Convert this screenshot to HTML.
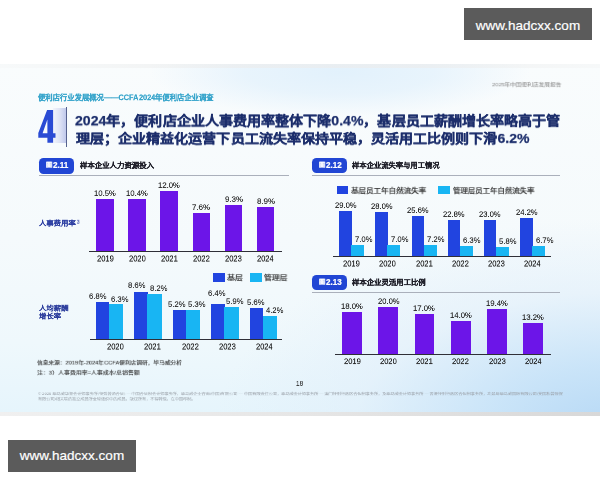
<!DOCTYPE html>
<html lang="zh-CN">
<head>
<meta charset="utf-8">
<style>
*{margin:0;padding:0;box-sizing:border-box}
html,body{width:600px;height:480px;overflow:hidden;background:#fff}
body{position:relative;font-family:"Liberation Sans",sans-serif}
.r{position:absolute}
.t{position:absolute;will-change:transform;white-space:nowrap;line-height:1;transform-origin:0 0}
.wm{position:absolute;width:128px;height:32px;background:#5b5b5b;color:#fff;font-size:13.5px;line-height:33px;text-align:center;overflow:hidden;-webkit-text-stroke:0.2px #fff}
#slide{position:absolute;left:0;top:64px;width:600px;height:348px;overflow:hidden;
 background:radial-gradient(ellipse 190px 45px at 340px 8px,rgba(226,241,252,1) 0%,rgba(228,242,252,0.8) 50%,rgba(240,247,252,0) 100%),radial-gradient(ellipse 400px 210px at 615px 365px,rgba(182,216,245,1) 0%,rgba(198,226,248,0.9) 30%,rgba(222,237,250,0.5) 65%,rgba(240,247,252,0) 100%),linear-gradient(180deg,#f9fcfd 0%,#f5fafc 50%,#eff8fc 80%,#e6f5fc 100%)}
#band{position:absolute;left:0;top:412px;width:600px;height:4px;background:linear-gradient(90deg,#f0f0f0,#e6e6e6 50%,#d8d8d8)}
</style>
</head>
<body>
<div class="wm" style="left:464px;top:8px;line-height:35px">www.hadcxx.com</div>
<div class="wm" style="left:8px;top:440px;line-height:31px">www.hadcxx.com</div>
<div id="slide"></div>
<div id="band"></div>
<div class="r" style="left:0;top:64px;width:600px;height:3.5px;background:linear-gradient(90deg,rgba(238,238,238,0.2) 0%,rgba(236,236,236,0.65) 40%,rgba(236,236,236,0.65) 70%,rgba(240,240,240,0.3) 100%)"></div>
<div class="r" style="left:52.5px;top:108.3px;width:13.3px;height:35px;background:linear-gradient(90deg,#f1f4fb 0%,#dfe4f5 50%,#c0c9ec 100%)"></div>
<div class="r" style="left:65.8px;top:107.4px;width:1px;height:39.3px;background:#56628e"></div>
<svg class="r" style="left:0;top:0" width="600" height="480"><path fill="#2a4bd4" fill-rule="evenodd" d="M47.1,110 L53.1,110 L53.1,133.3 L55.5,133.3 L55.5,137.7 L53.1,137.7 L53.1,142.8 L47.4,142.8 L47.4,137.7 L38.3,137.7 L38.3,133.1 Z M47.4,119.6 L47.4,133.3 L42.6,133.3 Z"/></svg>
<div class="r" style="left:39.10px;top:158.10px;width:34.90px;height:15.60px;background:#2146d4;border-radius:4.5px"></div>
<div class="r" style="left:39.00px;top:175.20px;width:250.00px;height:1.30px;background:#aab0bb"></div>
<div class="r" style="left:96.10px;top:198.91px;width:17.60px;height:52.29px;background:#6c15e8"></div>
<div class="r" style="left:128.25px;top:199.41px;width:17.60px;height:51.79px;background:#6c15e8"></div>
<div class="r" style="left:160.40px;top:191.44px;width:17.60px;height:59.76px;background:#6c15e8"></div>
<div class="r" style="left:192.55px;top:213.35px;width:17.60px;height:37.85px;background:#6c15e8"></div>
<div class="r" style="left:224.70px;top:204.89px;width:17.60px;height:46.31px;background:#6c15e8"></div>
<div class="r" style="left:256.85px;top:206.88px;width:17.60px;height:44.32px;background:#6c15e8"></div>
<div class="r" style="left:89.00px;top:250.55px;width:193.00px;height:1.40px;background:#2f2f37"></div>
<div class="r" style="left:212.80px;top:273.40px;width:11.90px;height:8.50px;background:#2144e0"></div>
<div class="r" style="left:250.40px;top:273.40px;width:11.60px;height:8.50px;background:#18b5f3"></div>
<div class="r" style="left:95.90px;top:301.56px;width:13.60px;height:37.94px;background:#2144e0"></div>
<div class="r" style="left:109.00px;top:304.35px;width:14.10px;height:35.15px;background:#18b5f3"></div>
<div class="r" style="left:134.38px;top:291.51px;width:13.60px;height:47.99px;background:#2144e0"></div>
<div class="r" style="left:147.47px;top:293.74px;width:14.10px;height:45.76px;background:#18b5f3"></div>
<div class="r" style="left:172.85px;top:310.48px;width:13.60px;height:29.02px;background:#2144e0"></div>
<div class="r" style="left:185.95px;top:309.93px;width:14.10px;height:29.57px;background:#18b5f3"></div>
<div class="r" style="left:211.33px;top:303.79px;width:13.60px;height:35.71px;background:#2144e0"></div>
<div class="r" style="left:224.43px;top:306.58px;width:14.10px;height:32.92px;background:#18b5f3"></div>
<div class="r" style="left:249.80px;top:308.25px;width:13.60px;height:31.25px;background:#2144e0"></div>
<div class="r" style="left:262.90px;top:316.06px;width:14.10px;height:23.44px;background:#18b5f3"></div>
<div class="r" style="left:89.70px;top:338.85px;width:192.30px;height:1.40px;background:#2f2f37"></div>
<div class="r" style="left:312.30px;top:157.70px;width:34.50px;height:15.50px;background:#2146d4;border-radius:4.5px"></div>
<div class="r" style="left:312.00px;top:175.20px;width:248.30px;height:1.30px;background:#aab0bb"></div>
<div class="r" style="left:337.00px;top:186.40px;width:11.30px;height:7.90px;background:#2144e0"></div>
<div class="r" style="left:438.30px;top:186.40px;width:11.50px;height:7.90px;background:#18b5f3"></div>
<div class="r" style="left:339.10px;top:210.67px;width:12.50px;height:45.53px;background:#2144e0"></div>
<div class="r" style="left:351.10px;top:245.21px;width:13.00px;height:10.99px;background:#18b5f3"></div>
<div class="r" style="left:375.30px;top:212.24px;width:12.50px;height:43.96px;background:#2144e0"></div>
<div class="r" style="left:387.30px;top:245.21px;width:13.00px;height:10.99px;background:#18b5f3"></div>
<div class="r" style="left:411.50px;top:216.01px;width:12.50px;height:40.19px;background:#2144e0"></div>
<div class="r" style="left:423.50px;top:244.90px;width:13.00px;height:11.30px;background:#18b5f3"></div>
<div class="r" style="left:447.70px;top:220.40px;width:12.50px;height:35.80px;background:#2144e0"></div>
<div class="r" style="left:459.70px;top:246.31px;width:13.00px;height:9.89px;background:#18b5f3"></div>
<div class="r" style="left:483.90px;top:220.09px;width:12.50px;height:36.11px;background:#2144e0"></div>
<div class="r" style="left:495.90px;top:247.09px;width:13.00px;height:9.11px;background:#18b5f3"></div>
<div class="r" style="left:520.10px;top:218.21px;width:12.50px;height:37.99px;background:#2144e0"></div>
<div class="r" style="left:532.10px;top:245.68px;width:13.00px;height:10.52px;background:#18b5f3"></div>
<div class="r" style="left:333.40px;top:255.55px;width:217.60px;height:1.40px;background:#2f2f37"></div>
<div class="r" style="left:312.30px;top:274.60px;width:34.50px;height:15.40px;background:#2146d4;border-radius:4.5px"></div>
<div class="r" style="left:312.00px;top:291.80px;width:248.30px;height:1.30px;background:#aab0bb"></div>
<div class="r" style="left:342.20px;top:311.84px;width:19.80px;height:42.66px;background:#6c15e8"></div>
<div class="r" style="left:378.40px;top:307.10px;width:19.80px;height:47.40px;background:#6c15e8"></div>
<div class="r" style="left:414.60px;top:314.21px;width:19.80px;height:40.29px;background:#6c15e8"></div>
<div class="r" style="left:450.80px;top:321.32px;width:19.80px;height:33.18px;background:#6c15e8"></div>
<div class="r" style="left:487.00px;top:308.52px;width:19.80px;height:45.98px;background:#6c15e8"></div>
<div class="r" style="left:523.20px;top:323.22px;width:19.80px;height:31.28px;background:#6c15e8"></div>
<div class="r" style="left:334.50px;top:353.85px;width:216.50px;height:1.40px;background:#2f2f37"></div>
<div class="t" style="left:492.24px;top:82.40px;font-size:6px;font-weight:normal;color:#8a8a8a;transform:scale(0.9497,0.8528);">2025年中国便利店发展报告</div>
<div class="t" style="left:38.28px;top:94.27px;font-size:16px;font-weight:bold;color:#3aa6cc;transform:scale(0.4571,0.4750);-webkit-text-stroke:0.5px #3aa6cc">便利店行业发展概况——CCFA&#8202;2024年便利店企业调查</div>
<div class="t" style="left:75.23px;top:113.87px;font-size:14px;font-weight:bold;color:#1b2d6b;transform:scale(1.0047,0.9403);-webkit-text-stroke:0.25px #1b2d6b">2024年，便利店企业人事费用率整体下降0.4%，基层员工薪酬增长率略高于管</div>
<div class="t" style="left:75.53px;top:131.75px;font-size:14px;font-weight:bold;color:#1b2d6b;transform:scale(1.0034,0.8990);-webkit-text-stroke:0.25px #1b2d6b">理层；企业精益化运营下员工流失率保持平稳，灵活用工比例则下滑6.2%</div>
<div class="t" style="left:45.84px;top:162.47px;font-size:7px;font-weight:bold;color:#ffffff;transform:scale(0.8945,0.7469);-webkit-text-stroke:0.15px #fff">图</div>
<div class="t" style="left:52.60px;top:161.13px;font-size:8px;font-weight:bold;color:#ffffff;transform:scale(1.0172,1.1616);-webkit-text-stroke:0.2px #fff">2.11</div>
<div class="t" style="left:79.50px;top:161.97px;font-size:16px;font-weight:bold;color:#1e1e28;transform:scale(0.4627,0.4508);-webkit-text-stroke:0.6px #1e1e28">样本企业人力资源投入</div>
<div class="t" style="left:39.27px;top:219.51px;font-size:16px;font-weight:bold;color:#3042a4;transform:scale(0.4588,0.4272);-webkit-text-stroke:0.35px #3042a4">人事费用率</div>
<div class="t" style="left:76.71px;top:219.14px;font-size:5px;font-weight:bold;color:#3042a4;transform:scale(0.8698,1.2292);">3</div>
<div class="t" style="left:93.85px;top:189.77px;font-size:15.6px;font-weight:normal;color:#2a2a2a;transform:scale(0.4935,0.4479);-webkit-text-stroke:0.3px #2a2a2a">10.5%</div>
<div class="t" style="left:96.53px;top:254.83px;font-size:16px;font-weight:normal;color:#222222;transform:scale(0.4722,0.4959);-webkit-text-stroke:0.3px #222222">2019</div>
<div class="t" style="left:126.00px;top:190.27px;font-size:15.6px;font-weight:normal;color:#2a2a2a;transform:scale(0.4935,0.4479);-webkit-text-stroke:0.3px #2a2a2a">10.4%</div>
<div class="t" style="left:128.68px;top:254.81px;font-size:16px;font-weight:normal;color:#222222;transform:scale(0.4708,0.4973);-webkit-text-stroke:0.3px #222222">2020</div>
<div class="t" style="left:158.15px;top:182.30px;font-size:15.6px;font-weight:normal;color:#2a2a2a;transform:scale(0.4935,0.4479);-webkit-text-stroke:0.3px #2a2a2a">12.0%</div>
<div class="t" style="left:160.83px;top:254.83px;font-size:16px;font-weight:normal;color:#222222;transform:scale(0.4716,0.4959);-webkit-text-stroke:0.3px #222222">2021</div>
<div class="t" style="left:192.37px;top:204.22px;font-size:15.6px;font-weight:normal;color:#2a2a2a;transform:scale(0.5051,0.4479);-webkit-text-stroke:0.3px #2a2a2a">7.6%</div>
<div class="t" style="left:192.98px;top:254.81px;font-size:16px;font-weight:normal;color:#222222;transform:scale(0.4718,0.4973);-webkit-text-stroke:0.3px #222222">2022</div>
<div class="t" style="left:224.51px;top:195.75px;font-size:15.6px;font-weight:normal;color:#2a2a2a;transform:scale(0.5054,0.4482);-webkit-text-stroke:0.3px #2a2a2a">9.3%</div>
<div class="t" style="left:225.13px;top:254.81px;font-size:16px;font-weight:normal;color:#222222;transform:scale(0.4717,0.4973);-webkit-text-stroke:0.3px #222222">2023</div>
<div class="t" style="left:256.69px;top:197.74px;font-size:15.6px;font-weight:normal;color:#2a2a2a;transform:scale(0.5045,0.4482);-webkit-text-stroke:0.3px #2a2a2a">8.9%</div>
<div class="t" style="left:257.29px;top:254.83px;font-size:16px;font-weight:normal;color:#222222;transform:scale(0.4647,0.4959);-webkit-text-stroke:0.3px #222222">2024</div>
<div class="t" style="left:226.69px;top:275.37px;font-size:8px;font-weight:normal;color:#2a2a2a;transform:scale(0.9874,0.8177);-webkit-text-stroke:0.22px #2a2a2a">基层</div>
<div class="t" style="left:264.10px;top:275.35px;font-size:8px;font-weight:normal;color:#2a2a2a;transform:scale(0.9740,0.8086);-webkit-text-stroke:0.22px #2a2a2a">管理层</div>
<div class="t" style="left:39.17px;top:305.04px;font-size:16px;font-weight:bold;color:#2f409e;transform:scale(0.4636,0.4167);-webkit-text-stroke:0.3px #2f409e">人均薪酬</div>
<div class="t" style="left:39.25px;top:313.38px;font-size:16px;font-weight:bold;color:#2f409e;transform:scale(0.4590,0.4273);-webkit-text-stroke:0.3px #2f409e">增长率</div>
<div class="t" style="left:89.41px;top:292.86px;font-size:15.6px;font-weight:normal;color:#2a2a2a;transform:scale(0.4940,0.4482);-webkit-text-stroke:0.3px #2a2a2a">6.8%</div>
<div class="t" style="left:111.41px;top:295.66px;font-size:15.6px;font-weight:normal;color:#2a2a2a;transform:scale(0.4940,0.4482);-webkit-text-stroke:0.3px #2a2a2a">6.3%</div>
<div class="t" style="left:107.23px;top:343.11px;font-size:16px;font-weight:normal;color:#222222;transform:scale(0.4708,0.4973);-webkit-text-stroke:0.3px #222222">2020</div>
<div class="t" style="left:127.65px;top:281.96px;font-size:15.6px;font-weight:normal;color:#2a2a2a;transform:scale(0.4929,0.4482);-webkit-text-stroke:0.3px #2a2a2a">8.6%</div>
<div class="t" style="left:149.85px;top:284.96px;font-size:15.6px;font-weight:normal;color:#2a2a2a;transform:scale(0.4929,0.4479);-webkit-text-stroke:0.3px #2a2a2a">8.2%</div>
<div class="t" style="left:144.38px;top:343.13px;font-size:16px;font-weight:normal;color:#222222;transform:scale(0.4716,0.4959);-webkit-text-stroke:0.3px #222222">2021</div>
<div class="t" style="left:168.20px;top:301.06px;font-size:15.6px;font-weight:normal;color:#2a2a2a;transform:scale(0.4942,0.4479);-webkit-text-stroke:0.3px #2a2a2a">5.2%</div>
<div class="t" style="left:188.20px;top:301.06px;font-size:15.6px;font-weight:normal;color:#2a2a2a;transform:scale(0.4942,0.4482);-webkit-text-stroke:0.3px #2a2a2a">5.3%</div>
<div class="t" style="left:181.53px;top:343.11px;font-size:16px;font-weight:normal;color:#222222;transform:scale(0.4718,0.4973);-webkit-text-stroke:0.3px #222222">2022</div>
<div class="t" style="left:207.61px;top:289.86px;font-size:15.6px;font-weight:normal;color:#2a2a2a;transform:scale(0.4940,0.4482);-webkit-text-stroke:0.3px #2a2a2a">6.4%</div>
<div class="t" style="left:225.90px;top:298.06px;font-size:15.6px;font-weight:normal;color:#2a2a2a;transform:scale(0.4942,0.4482);-webkit-text-stroke:0.3px #2a2a2a">5.9%</div>
<div class="t" style="left:218.68px;top:343.11px;font-size:16px;font-weight:normal;color:#222222;transform:scale(0.4717,0.4973);-webkit-text-stroke:0.3px #222222">2023</div>
<div class="t" style="left:247.20px;top:299.36px;font-size:15.6px;font-weight:normal;color:#2a2a2a;transform:scale(0.4942,0.4482);-webkit-text-stroke:0.3px #2a2a2a">5.6%</div>
<div class="t" style="left:265.67px;top:307.46px;font-size:15.6px;font-weight:normal;color:#2a2a2a;transform:scale(0.4894,0.4479);-webkit-text-stroke:0.3px #2a2a2a">4.2%</div>
<div class="t" style="left:255.84px;top:343.13px;font-size:16px;font-weight:normal;color:#222222;transform:scale(0.4647,0.4959);-webkit-text-stroke:0.3px #222222">2024</div>
<div class="t" style="left:37.25px;top:360.20px;font-size:7px;font-weight:normal;color:#333333;transform:scale(0.8136,0.7417);-webkit-text-stroke:0.12px #333">信息来源：2019年-2024年CCFA便利店调研，毕马威分析</div>
<div class="t" style="left:37.24px;top:370.01px;font-size:7px;font-weight:normal;color:#333333;transform:scale(0.8418,0.7391);-webkit-text-stroke:0.12px #333">注：3）人事费用率=人事成本/总销售额</div>
<div class="t" style="left:296.41px;top:380.01px;font-size:14px;font-weight:normal;color:#333;transform:scale(0.4638,0.4828);-webkit-text-stroke:0.2px #333">18</div>
<div class="t" style="left:38.04px;top:392.12px;font-size:6px;font-weight:normal;color:#9aa0a8;transform:scale(0.6869,0.5534);">© 2025 毕马威华振会计师事务所(特殊普通合伙) — 中国合伙制会计师事务所，毕马威企业咨询(中国)有限公司 — 中国有限责任公司，毕马威会计师事务所 — 澳门特别行政区合伙制事务所，及毕马威会计师事务所 — 香港特别行政区合伙制事务所，均是与毕马威国际有限公司(英国私营担保</div>
<div class="t" style="left:38.18px;top:397.33px;font-size:6px;font-weight:normal;color:#9aa0a8;transform:scale(0.6842,0.5917);">有限公司)相关联的独立成员所全球组织中的成员。版权所有，不得转载。在中国印制。</div>
<div class="t" style="left:319.04px;top:162.07px;font-size:7px;font-weight:bold;color:#ffffff;transform:scale(0.8945,0.7469);-webkit-text-stroke:0.15px #fff">图</div>
<div class="t" style="left:325.80px;top:160.73px;font-size:8px;font-weight:bold;color:#ffffff;transform:scale(1.0026,1.1616);-webkit-text-stroke:0.2px #fff">2.12</div>
<div class="t" style="left:352.40px;top:162.22px;font-size:16px;font-weight:bold;color:#1e1e28;transform:scale(0.4563,0.4479);-webkit-text-stroke:0.6px #1e1e28">样本企业流失率与用工情况</div>
<div class="t" style="left:350.68px;top:187.71px;font-size:8px;font-weight:normal;color:#2a2a2a;transform:scale(0.9397,0.8284);-webkit-text-stroke:0.22px #2a2a2a">基层员工年自然流失率</div>
<div class="t" style="left:452.69px;top:187.71px;font-size:8px;font-weight:normal;color:#2a2a2a;transform:scale(0.9256,0.8284);-webkit-text-stroke:0.22px #2a2a2a">管理层员工年自然流失率</div>
<div class="t" style="left:334.59px;top:201.53px;font-size:15.6px;font-weight:normal;color:#2a2a2a;transform:scale(0.4870,0.4479);-webkit-text-stroke:0.3px #2a2a2a">29.0%</div>
<div class="t" style="left:354.58px;top:236.37px;font-size:15.6px;font-weight:normal;color:#2a2a2a;transform:scale(0.4935,0.4479);-webkit-text-stroke:0.3px #2a2a2a">7.0%</div>
<div class="t" style="left:343.23px;top:260.33px;font-size:16px;font-weight:normal;color:#222222;transform:scale(0.4722,0.4959);-webkit-text-stroke:0.3px #222222">2019</div>
<div class="t" style="left:370.79px;top:203.10px;font-size:15.6px;font-weight:normal;color:#2a2a2a;transform:scale(0.4870,0.4479);-webkit-text-stroke:0.3px #2a2a2a">28.0%</div>
<div class="t" style="left:390.78px;top:236.37px;font-size:15.6px;font-weight:normal;color:#2a2a2a;transform:scale(0.4935,0.4479);-webkit-text-stroke:0.3px #2a2a2a">7.0%</div>
<div class="t" style="left:379.43px;top:260.31px;font-size:16px;font-weight:normal;color:#222222;transform:scale(0.4708,0.4973);-webkit-text-stroke:0.3px #222222">2020</div>
<div class="t" style="left:406.99px;top:206.87px;font-size:15.6px;font-weight:normal;color:#2a2a2a;transform:scale(0.4870,0.4479);-webkit-text-stroke:0.3px #2a2a2a">25.6%</div>
<div class="t" style="left:426.98px;top:236.06px;font-size:15.6px;font-weight:normal;color:#2a2a2a;transform:scale(0.4935,0.4479);-webkit-text-stroke:0.3px #2a2a2a">7.2%</div>
<div class="t" style="left:415.63px;top:260.33px;font-size:16px;font-weight:normal;color:#222222;transform:scale(0.4716,0.4959);-webkit-text-stroke:0.3px #222222">2021</div>
<div class="t" style="left:443.19px;top:211.27px;font-size:15.6px;font-weight:normal;color:#2a2a2a;transform:scale(0.4870,0.4479);-webkit-text-stroke:0.3px #2a2a2a">22.8%</div>
<div class="t" style="left:463.16px;top:237.47px;font-size:15.6px;font-weight:normal;color:#2a2a2a;transform:scale(0.4940,0.4482);-webkit-text-stroke:0.3px #2a2a2a">6.3%</div>
<div class="t" style="left:451.83px;top:260.31px;font-size:16px;font-weight:normal;color:#222222;transform:scale(0.4718,0.4973);-webkit-text-stroke:0.3px #222222">2022</div>
<div class="t" style="left:479.39px;top:210.95px;font-size:15.6px;font-weight:normal;color:#2a2a2a;transform:scale(0.4870,0.4479);-webkit-text-stroke:0.3px #2a2a2a">23.0%</div>
<div class="t" style="left:499.35px;top:238.26px;font-size:15.6px;font-weight:normal;color:#2a2a2a;transform:scale(0.4942,0.4482);-webkit-text-stroke:0.3px #2a2a2a">5.8%</div>
<div class="t" style="left:488.03px;top:260.31px;font-size:16px;font-weight:normal;color:#222222;transform:scale(0.4717,0.4973);-webkit-text-stroke:0.3px #222222">2023</div>
<div class="t" style="left:515.59px;top:209.07px;font-size:15.6px;font-weight:normal;color:#2a2a2a;transform:scale(0.4870,0.4479);-webkit-text-stroke:0.3px #2a2a2a">24.2%</div>
<div class="t" style="left:535.56px;top:236.85px;font-size:15.6px;font-weight:normal;color:#2a2a2a;transform:scale(0.4940,0.4479);-webkit-text-stroke:0.3px #2a2a2a">6.7%</div>
<div class="t" style="left:524.24px;top:260.33px;font-size:16px;font-weight:normal;color:#222222;transform:scale(0.4647,0.4959);-webkit-text-stroke:0.3px #222222">2024</div>
<div class="t" style="left:319.04px;top:278.97px;font-size:7px;font-weight:bold;color:#ffffff;transform:scale(0.8945,0.7469);-webkit-text-stroke:0.15px #fff">图</div>
<div class="t" style="left:325.78px;top:277.57px;font-size:8px;font-weight:bold;color:#ffffff;transform:scale(1.0013,1.1789);-webkit-text-stroke:0.2px #fff">2.13</div>
<div class="t" style="left:351.80px;top:278.67px;font-size:16px;font-weight:bold;color:#1e1e28;transform:scale(0.4604,0.4511);-webkit-text-stroke:0.6px #1e1e28">样本企业灵活用工比例</div>
<div class="t" style="left:341.05px;top:302.90px;font-size:15.6px;font-weight:normal;color:#2a2a2a;transform:scale(0.4935,0.4479);-webkit-text-stroke:0.3px #2a2a2a">18.0%</div>
<div class="t" style="left:343.73px;top:358.46px;font-size:16px;font-weight:normal;color:#222222;transform:scale(0.4722,0.4559);-webkit-text-stroke:0.3px #222222">2019</div>
<div class="t" style="left:377.54px;top:298.16px;font-size:15.6px;font-weight:normal;color:#2a2a2a;transform:scale(0.4870,0.4479);-webkit-text-stroke:0.3px #2a2a2a">20.0%</div>
<div class="t" style="left:379.93px;top:358.44px;font-size:16px;font-weight:normal;color:#222222;transform:scale(0.4708,0.4572);-webkit-text-stroke:0.3px #222222">2020</div>
<div class="t" style="left:413.45px;top:305.27px;font-size:15.6px;font-weight:normal;color:#2a2a2a;transform:scale(0.4935,0.4479);-webkit-text-stroke:0.3px #2a2a2a">17.0%</div>
<div class="t" style="left:416.13px;top:358.46px;font-size:16px;font-weight:normal;color:#222222;transform:scale(0.4716,0.4559);-webkit-text-stroke:0.3px #222222">2021</div>
<div class="t" style="left:449.65px;top:312.38px;font-size:15.6px;font-weight:normal;color:#2a2a2a;transform:scale(0.4935,0.4479);-webkit-text-stroke:0.3px #2a2a2a">14.0%</div>
<div class="t" style="left:452.33px;top:358.44px;font-size:16px;font-weight:normal;color:#222222;transform:scale(0.4718,0.4572);-webkit-text-stroke:0.3px #222222">2022</div>
<div class="t" style="left:485.85px;top:299.59px;font-size:15.6px;font-weight:normal;color:#2a2a2a;transform:scale(0.4935,0.4479);-webkit-text-stroke:0.3px #2a2a2a">19.4%</div>
<div class="t" style="left:488.53px;top:358.44px;font-size:16px;font-weight:normal;color:#222222;transform:scale(0.4717,0.4572);-webkit-text-stroke:0.3px #222222">2023</div>
<div class="t" style="left:522.05px;top:314.28px;font-size:15.6px;font-weight:normal;color:#2a2a2a;transform:scale(0.4935,0.4479);-webkit-text-stroke:0.3px #2a2a2a">13.2%</div>
<div class="t" style="left:524.74px;top:358.46px;font-size:16px;font-weight:normal;color:#222222;transform:scale(0.4647,0.4559);-webkit-text-stroke:0.3px #222222">2024</div>
</body>
</html>
